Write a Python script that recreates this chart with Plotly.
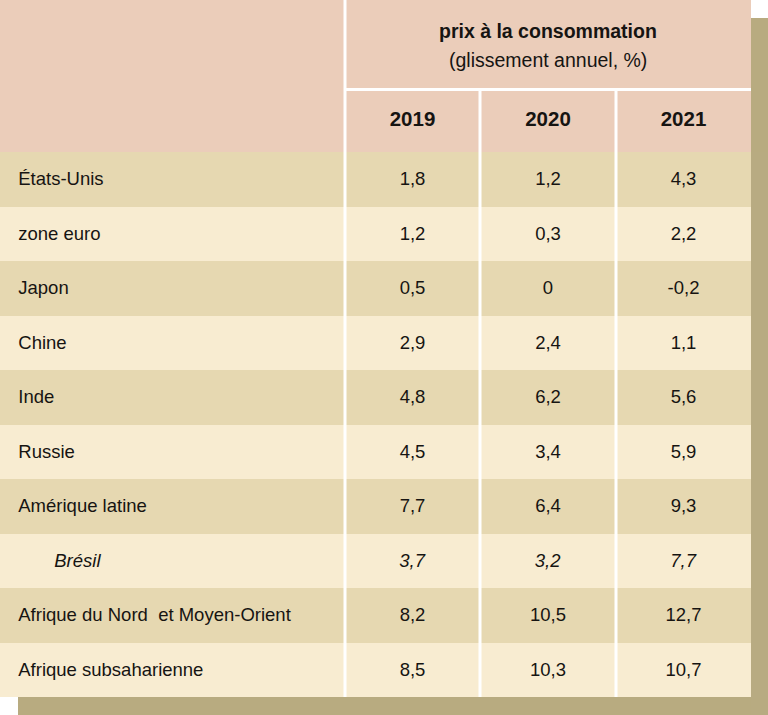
import plotly.graph_objects as go

W, H = 768, 715

# ---- data ----
pays = ["États-Unis", "zone euro", "Japon", "Chine", "Inde", "Russie",
        "Amérique latine", "Brésil", "Afrique du Nord  et Moyen-Orient",
        "Afrique subsaharienne"]
annees = ["2019", "2020", "2021"]
v2019 = ["1,8", "1,2", "0,5", "2,9", "4,8", "4,5", "7,7", "3,7", "8,2", "8,5"]
v2020 = ["1,2", "0,3", "0", "2,4", "6,2", "3,4", "6,4", "3,2", "10,5", "10,3"]
v2021 = ["4,3", "2,2", "-0,2", "1,1", "5,6", "5,9", "9,3", "7,7", "12,7", "10,7"]
italic_rows = {"Brésil"}
titre = "prix à la consommation"
sous_titre = "(glissement annuel, %)"

# ---- style ----
FONT = "Liberation Sans, Arial, sans-serif"
PINK = "#ebcdba"
DARK = "#e6d8b1"
LIGHT = "#f8ecd1"
SHADOW = "#b8ab80"
TXT = "#161412"
CELL_SIZE = 18.5
HEAD_SIZE = 20.5

def px(x):
    return x / W

def py(y):
    return 1 - y / H

def wrap(p, s):
    # every cell goes through the same rich-text path so rows line up
    return "<i>" + s + "</i>" if p in italic_rows else "<span>" + s + "</span>"

def fmt_label(p):
    pad = "\u00a0" * 9 if p in italic_rows else "\u00a0\u00a0"
    return pad + wrap(p, p)

labels = [fmt_label(p) for p in pays]
cols = [labels] + [[wrap(p, v) for p, v in zip(pays, vals)] for vals in (v2019, v2020, v2021)]
fills = [DARK if i % 2 == 0 else LIGHT for i in range(len(pays))]

TABLE_RIGHT = 751
TABLE_TOP = 91
TABLE_BOTTOM = 697
ROW_H = 54.5
HEAD_H = 61
TEXT_DY = 8       # text of plotly tables is top-aligned: offset text layer to centre it
COLW = [345, 135, 136, 135]
ALIGN = ["left", "center", "center", "center"]
CLEAR = "rgba(0,0,0,0)"

fig = go.Figure()
# fill layer
fig.add_trace(go.Table(
    domain=dict(x=[0, px(TABLE_RIGHT)], y=[py(TABLE_BOTTOM + 1), py(TABLE_TOP)]),
    columnwidth=COLW,
    header=dict(values=[""] * 4, fill=dict(color=PINK), line=dict(width=0), height=HEAD_H),
    cells=dict(values=[[""] * len(pays)] * 4, fill=dict(color=[fills] * 4),
               line=dict(width=0), height=ROW_H),
    hoverinfo="skip",
))
# text layer
fig.add_trace(go.Table(
    domain=dict(x=[0, px(TABLE_RIGHT)], y=[0, py(TABLE_TOP + TEXT_DY)]),
    columnwidth=COLW,
    header=dict(values=[""] + ["<b>" + a + "</b>" for a in annees],
                fill=dict(color=CLEAR), line=dict(width=0), align=ALIGN,
                font=dict(family=FONT, size=HEAD_SIZE, color=TXT), height=HEAD_H),
    cells=dict(values=cols, fill=dict(color=CLEAR), line=dict(width=0), align=ALIGN,
               font=dict(family=FONT, size=CELL_SIZE, color=TXT), height=ROW_H),
    hoverinfo="skip",
))

shapes = [
    dict(type="rect", xref="paper", yref="paper", x0=px(18), x1=px(768), y0=py(18), y1=py(715),
         fillcolor=SHADOW, line=dict(width=0), layer="below"),
    dict(type="rect", xref="paper", yref="paper", x0=0, x1=px(TABLE_RIGHT), y0=py(0), y1=py(TABLE_BOTTOM),
         fillcolor="white", line=dict(width=0), layer="below"),
    dict(type="rect", xref="paper", yref="paper", x0=0, x1=px(TABLE_RIGHT), y0=py(0), y1=py(TABLE_TOP),
         fillcolor=PINK, line=dict(width=0), layer="below"),
]
# white separators
for x, y0 in [(345, 0), (480, TABLE_TOP), (616, TABLE_TOP)]:
    shapes.append(dict(type="line", xref="paper", yref="paper", x0=px(x), x1=px(x),
                       y0=py(y0), y1=py(TABLE_BOTTOM), line=dict(color="white", width=3), layer="above"))
shapes.append(dict(type="line", xref="paper", yref="paper", x0=px(345), x1=px(TABLE_RIGHT),
                   y0=py(89.5), y1=py(89.5), line=dict(color="white", width=3), layer="above"))

annotations = [
    dict(text="<b>" + titre + "</b>", x=px(548), y=py(31), xref="paper", yref="paper",
         showarrow=False, font=dict(family=FONT, size=19.5, color=TXT), xanchor="center", yanchor="middle"),
    dict(text=sous_titre, x=px(548), y=py(60), xref="paper", yref="paper",
         showarrow=False, font=dict(family=FONT, size=19.5, color=TXT), xanchor="center", yanchor="middle"),
]

fig.update_layout(width=W, height=H, margin=dict(l=0, r=0, t=0, b=0),
                  paper_bgcolor="white", plot_bgcolor="white",
                  shapes=shapes, annotations=annotations, showlegend=False)
fig.write_html("out.html", config={"displayModeBar": False},
               post_script="document.body.style.margin='0';")
